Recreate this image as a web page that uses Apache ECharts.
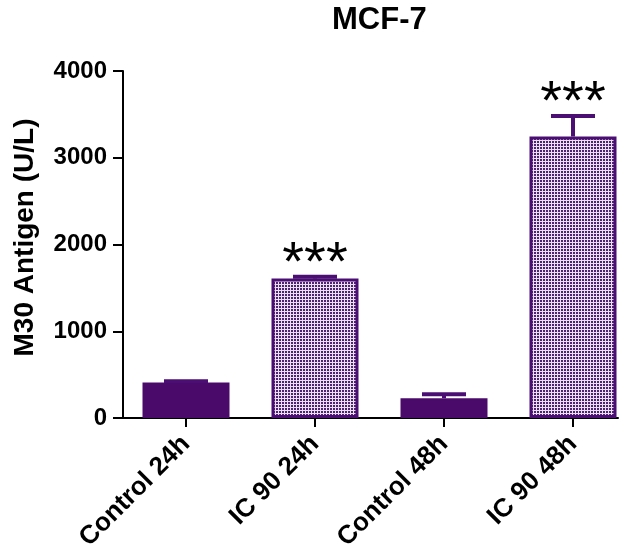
<!DOCTYPE html>
<html>
<head>
<meta charset="utf-8">
<script src="https://cdn.jsdelivr.net/npm/echarts@6/dist/echarts.min.js"></script>
<style>
html,body{margin:0;padding:0;background:#fff;}
#chart{width:630px;height:556px;}
</style>
</head>
<body>
<div id="chart"></div>
<script>
var categories = ['Control 24h', 'IC 90 24h', 'Control 48h', 'IC 90 48h'];
var means = [409, 1608, 228, 3245];
var errors = [15, 20, 45, 236];
var sig = ['', '***', '', '***'];
var yTicks = [0, 1000, 2000, 3000, 4000];

var FONT = '"Liberation Sans", Arial, sans-serif';
var DARK = '#4a0a6a';
var EDGE = '#4b0f73';

// checkered fill pattern
var pc = document.createElement('canvas');
pc.width = 3; pc.height = 3;
var pctx = pc.getContext('2d');
pctx.fillStyle = '#ece0f5';
pctx.fillRect(0, 0, 3, 3);
pctx.fillStyle = '#4e2372';
pctx.fillRect(0, 0, 2, 2);

var chart = echarts.init(document.getElementById('chart'), null, {renderer: 'canvas'});

var barData = categories.map(function (c, i) {
  var treated = c.indexOf('IC') === 0;
  return {
    value: means[i],
    itemStyle: treated
      ? {color: {image: pc, repeat: 'repeat'}, borderColor: EDGE, borderWidth: 3}
      : {color: DARK, borderWidth: 0}
  };
});

var errData = categories.map(function (c, i) { return [i, means[i], errors[i]]; });

var option = {
  animation: false,
  backgroundColor: '#fff',
  title: {
    text: 'MCF-7',
    left: 327,
    top: 0,
    textStyle: {fontFamily: FONT, fontWeight: 'bold', fontSize: 31, color: '#000'}
  },
  grid: [
    {left: 186, top: 71, right: 57, height: 347},
    {left: 123, top: 71, width: 495, height: 347}
  ],
  xAxis: [
    {
      type: 'category',
      gridIndex: 0,
      data: categories,
      boundaryGap: false,
      axisLine: {show: false},
      axisTick: {show: true, length: 9, lineStyle: {color: '#000', width: 2}},
      axisLabel: {
        rotate: 45,
        interval: 0,
        margin: 22,
        color: '#000',
        fontFamily: FONT,
        fontWeight: 'bold',
        fontSize: 26
      }
    },
    {
      type: 'value',
      gridIndex: 1,
      min: 0, max: 1,
      axisLine: {show: true, onZero: false, lineStyle: {color: '#000', width: 2}},
      axisTick: {show: false},
      axisLabel: {show: false},
      splitLine: {show: false}
    }
  ],
  yAxis: [
    {
      type: 'value',
      gridIndex: 0,
      offset: 63,
      min: yTicks[0],
      max: yTicks[yTicks.length - 1],
      interval: yTicks[1] - yTicks[0],
      name: 'M30 Antigen (U/L)',
      nameLocation: 'middle',
      nameRotate: 90,
      nameGap: 84,
      nameTextStyle: {fontFamily: FONT, fontWeight: 'bold', fontSize: 28, color: '#000', padding: [0, 0, 0, 14]},
      axisLine: {show: true, lineStyle: {color: '#000', width: 2}},
      axisTick: {show: true, length: 10, lineStyle: {color: '#000', width: 2}},
      axisLabel: {
        margin: 16, color: '#000', fontFamily: FONT, fontWeight: 'bold', fontSize: 24,
        formatter: function (v) { return String(v); }
      },
      splitLine: {show: false}
    },
    {type: 'value', gridIndex: 1, show: false}
  ],
  series: [
    {
      type: 'bar',
      xAxisIndex: 0,
      yAxisIndex: 0,
      barWidth: 87,
      clip: false,
      data: barData,
      z: 2
    },
    {
      type: 'custom',
      xAxisIndex: 0,
      yAxisIndex: 0,
      clip: false,
      z: 3,
      data: errData,
      renderItem: function (params, api) {
        var x = api.value(0), m = api.value(1), e = api.value(2);
        var p0 = api.coord([x, m]);
        var p1 = api.coord([x, m + e]);
        var half = 22;
        var st = {stroke: EDGE, lineWidth: 4};
        var children = [
          {type: 'line', shape: {x1: p0[0], y1: p0[1], x2: p1[0], y2: p1[1]}, style: st},
          {type: 'line', shape: {x1: p1[0] - half, y1: p1[1], x2: p1[0] + half, y2: p1[1]}, style: st}
        ];
        var s = sig[params.dataIndex];
        if (s) {
          children.push({
            type: 'text',
            x: p1[0],
            y: p1[1] - 12,
            style: {text: s, fill: '#000', font: 'normal 56px ' + FONT, align: 'center', verticalAlign: 'middle'}
          });
        }
        return {type: 'group', children: children};
      }
    }
  ]
};
chart.setOption(option);
</script>
</body>
</html>
